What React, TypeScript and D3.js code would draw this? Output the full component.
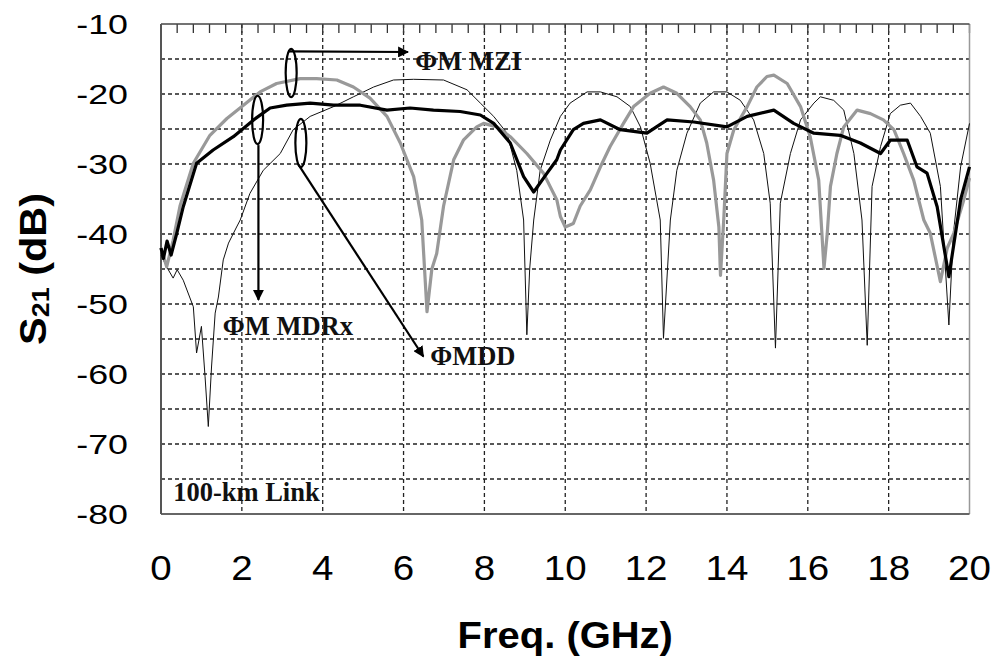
import React from "react";
import * as d3 from "d3";

// ---- data ----
const xTicks = [0, 2, 4, 6, 8, 10, 12, 14, 16, 18, 20];
const yTicks = [-10, -20, -30, -40, -50, -60, -70, -80];

// Gray thick curve (ΦM MZI)
const mziF = [0, 0.14, 0.3, 0.47, 0.8, 1.21, 1.63, 2.04, 2.45, 2.86, 3.44, 3.85, 4.35, 4.76, 5.17, 5.59, 5.92, 6.25, 6.45, 6.58, 6.7, 6.82, 6.99, 7.24, 7.48, 7.81, 7.98, 8.31, 8.64, 9.05, 9.46, 9.79, 9.88, 10.0, 10.2, 10.37, 10.62, 10.87, 11.11, 11.44, 11.69, 12.1, 12.43, 12.76, 13.09, 13.34, 13.5, 13.67, 13.8, 13.84, 13.92, 14.0, 14.17, 14.5, 14.74, 14.99, 15.16, 15.49, 15.82, 16.06, 16.27, 16.4, 16.48, 16.56, 16.72, 16.89, 17.22, 17.55, 17.87, 18.13, 18.37, 18.62, 18.87, 19.03, 19.28, 19.45, 19.61, 19.86, 20];
const mziS = [-42, -44.7, -40.9, -36, -29.9, -25.9, -23.5, -21.6, -19.7, -18.5, -17.8, -17.8, -18, -19, -20.6, -23.2, -27, -31.8, -38, -51.1, -45, -42.8, -36, -29.4, -26.6, -24.7, -24.2, -24.7, -26.1, -28.5, -31.3, -35.1, -37.5, -39, -38.5, -36, -33.7, -30.4, -27.5, -24.2, -21.8, -19.9, -19, -19.9, -21.8, -23.7, -27, -32.3, -39, -45.9, -38, -28.5, -25.1, -21.8, -19, -17.5, -17.3, -18.5, -21.8, -26.1, -32.3, -44.9, -40, -33.2, -28.5, -24.7, -22.3, -22.8, -23.7, -25.1, -28.5, -32.3, -38, -39.9, -46.8, -42, -39.9, -35.1, -32];

// Black thick curve (ΦM MDRx)
const mdrxF = [0, 0.06, 0.15, 0.25, 0.39, 0.55, 0.88, 1.29, 1.79, 2.29, 2.7, 3.11, 3.69, 4.27, 4.93, 5.59, 6.16, 6.74, 7.4, 7.9, 8.23, 8.64, 8.97, 9.22, 9.55, 9.79, 9.88, 10.2, 10.45, 10.87, 11.36, 12.02, 12.52, 13.18, 14.0, 14.5, 15.16, 15.65, 16.15, 16.8, 17.3, 17.8, 18.04, 18.46, 18.7, 18.95, 19.2, 19.49, 19.78, 20];
const mdrxS = [-42, -43.5, -41, -43, -39.9, -36.1, -29.9, -28, -26.1, -23.7, -22, -21.6, -21.3, -21.6, -21.6, -22.3, -22, -22.3, -22.5, -23, -24.2, -27, -31.8, -34, -31.3, -29.4, -28, -25.1, -24.2, -23.7, -25.1, -25.6, -23.7, -24, -24.7, -23.2, -22.3, -24.2, -25.6, -25.9, -27, -28.5, -26.6, -26.6, -30.4, -31.3, -36.1, -46.1, -35.1, -30.4];

// Thin black curve (ΦMDD)
const mddF = [0, 0.14, 0.3, 0.4, 0.55, 0.8, 0.88, 1.0, 1.09, 1.17, 1.25, 1.34, 1.42, 1.54, 1.67, 1.87, 1.96, 2.2, 2.53, 2.95, 3.27, 3.69, 4.27, 4.76, 5.26, 5.75, 6.25, 6.99, 7.57, 7.9, 8.23, 8.56, 8.8, 8.97, 9.05, 9.12, 9.22, 9.38, 9.63, 9.88, 10.12, 10.54, 10.87, 11.28, 11.61, 11.86, 12.1, 12.35, 12.43, 12.6, 12.76, 13.01, 13.34, 13.67, 14, 14.33, 14.66, 14.91, 15.07, 15.2, 15.32, 15.57, 15.82, 16.15, 16.31, 16.64, 16.89, 17.14, 17.34, 17.47, 17.59, 17.8, 18.04, 18.29, 18.54, 18.79, 19.03, 19.28, 19.49, 19.6, 19.78, 20];
const mddS = [-43, -44.7, -46.3, -45.1, -46.6, -50.4, -57, -53.2, -60.4, -67.5, -59, -51.3, -49, -43.7, -41.3, -39, -38, -34.2, -30.9, -28.5, -25.1, -23.2, -21.8, -20.4, -19, -18, -17.9, -18, -19.4, -21.3, -23.2, -25.6, -30.9, -38, -54.4, -45, -38, -30.9, -26.6, -23.2, -21.3, -19.7, -19.7, -20.4, -21.8, -24.7, -29.9, -38, -54.9, -38, -30.9, -25.6, -21.3, -19.7, -19.7, -20.9, -23.7, -28.5, -35.6, -56.3, -35.6, -28.5, -23.7, -21.3, -20.4, -20.9, -22.3, -28.5, -38, -55.9, -33.2, -27.5, -22.8, -21.6, -21.3, -23.2, -25.6, -33.2, -53, -40, -30.4, -24.2];

// annotations (data units)
const labelNames = ["ΦM MZI", "ΦM MDRx", "ΦMDD"];
const labelPos: [number, number][] = [[6.29, -16.6], [1.53, -54.4], [6.66, -58.7]];
const ellipseC: [number, number][] = [[3.22, -17.0], [2.39, -23.7], [3.46, -27.0]];
const arrowFrom: [number, number][] = [[3.14, -13.9], [2.41, -27.3], [3.40, -30.1]];
const arrowTo: [number, number][] = [[6.11, -14.0], [2.41, -49.4], [6.49, -57.5]];
const linkLabel = "100-km Link";

export default function App() {
  const W = 993, H = 661;
  const x = d3.scaleLinear().domain([0, 20]).range([161, 969.5]);
  const y = d3.scaleLinear().domain([-80, -10]).range([514, 24]);
  const line = (fs: number[], ss: number[]) =>
    d3.line<number>().x((_, i) => x(fs[i])).y((_, i) => y(ss[i]))(ss) || "";
  const minorTicks = d3.range(0, 20.001, 0.4);
  const hGrid = d3.range(-75, -10, 5);
  const vGrid = d3.range(2, 20, 2);
  const [x0, x1] = x.range();
  const [y0, y1] = y.range();
  const ry = Math.abs(y(-10) - y(-13.45));
  const rx = 5.5;

  return (
    <svg width={W} height={H} style={{ position: "absolute", left: 0, top: 0, background: "#fff" }}>
      <defs>
        <marker id="ah" viewBox="0 0 10 10" refX="9" refY="5" markerWidth="5" markerHeight="5" orient="auto-start-reverse" markerUnits="strokeWidth">
          <path d="M0,0 L10,5 L0,10 z" fill="#000" />
        </marker>
      </defs>
      <rect x={0} y={0} width={W} height={H} fill="#fff" />
      {/* grid */}
      {hGrid.map((v) => (
        <line key={"h" + v} x1={x0} x2={x1} y1={y(v)} y2={y(v)} stroke="#222" strokeWidth={1.3} strokeDasharray="4 3" />
      ))}
      {vGrid.map((v) => (
        <line key={"v" + v} x1={x(v)} x2={x(v)} y1={y1} y2={y0} stroke="#222" strokeWidth={1.3} strokeDasharray="4 3" />
      ))}
      {/* minor ticks at top */}
      {minorTicks.map((v, i) => (
        <line key={"t" + i} x1={x(v)} x2={x(v)} y1={y1} y2={y1 + 9} stroke="#333" strokeWidth={1.3} />
      ))}
      {/* frame */}
      <line x1={x1} x2={x1} y1={y1} y2={y0} stroke="#999" strokeWidth={1.5} />
      <line x1={x0} x2={x1} y1={y1} y2={y1} stroke="#444" strokeWidth={1.5} />
      <line x1={x0} x2={x1} y1={y0} y2={y0} stroke="#666" strokeWidth={2} />
      <line x1={x0} x2={x0} y1={y1} y2={y0} stroke="#555" strokeWidth={2} />

      {/* curves */}
      <path d={line(mddF, mddS)} fill="none" stroke="#111" strokeWidth={1} strokeLinejoin="round" />
      <path d={line(mziF, mziS)} fill="none" stroke="#999" strokeWidth={3.2} strokeLinejoin="round" />
      <path d={line(mdrxF, mdrxS)} fill="none" stroke="#000" strokeWidth={3.2} strokeLinejoin="round" />

      {/* annotations */}
      {ellipseC.map((c, i) => (
        <ellipse key={"e" + i} cx={x(c[0])} cy={y(c[1])} rx={rx} ry={ry} fill="none" stroke="#000" strokeWidth={2.2} />
      ))}
      {arrowFrom.map((a, i) => (
        <line key={"a" + i} x1={x(a[0])} y1={y(a[1])} x2={x(arrowTo[i][0])} y2={y(arrowTo[i][1])} stroke="#000" strokeWidth={2.2} markerEnd="url(#ah)" />
      ))}
      {labelNames.map((t, i) => (
        <text key={"l" + i} x={x(labelPos[i][0])} y={y(labelPos[i][1])} fontFamily="Liberation Serif" fontWeight="bold" fontSize={26.5} fill="#111">{t}</text>
      ))}
      <text x={x(0.3)} y={y(-78.2)} fontFamily="Liberation Serif" fontWeight="bold" fontSize={26.5} fill="#111">{linkLabel}</text>

      {/* y tick labels */}
      {yTicks.map((v) => (
        <text key={"y" + v} transform={`translate(128,${y(v) + 10}) scale(1.28,1)`} textAnchor="end" fontFamily="Liberation Sans" fontSize={28} fill="#000">{v}</text>
      ))}
      {/* x tick labels */}
      {xTicks.map((v) => (
        <text key={"x" + v} transform={`translate(${x(v)},580) scale(1.1,1)`} textAnchor="middle" fontFamily="Liberation Sans" fontSize={35} fill="#000">{v}</text>
      ))}
      {/* axis titles */}
      <text transform={`translate(${(x0 + x1) / 2},648) scale(1.08,1)`} textAnchor="middle" fontFamily="Liberation Sans" fontWeight="bold" fontSize={37} fill="#000">Freq. (GHz)</text>
      <text transform={`translate(46,${(y0 + y1) / 2}) rotate(-90) scale(1.12,1)`} textAnchor="middle" fontFamily="Liberation Sans" fontWeight="bold" fontSize={37} fill="#000">
        S<tspan fontSize={24} dy={3}>21</tspan><tspan dy={-3}> (dB)</tspan>
      </text>
    </svg>
  );
}
